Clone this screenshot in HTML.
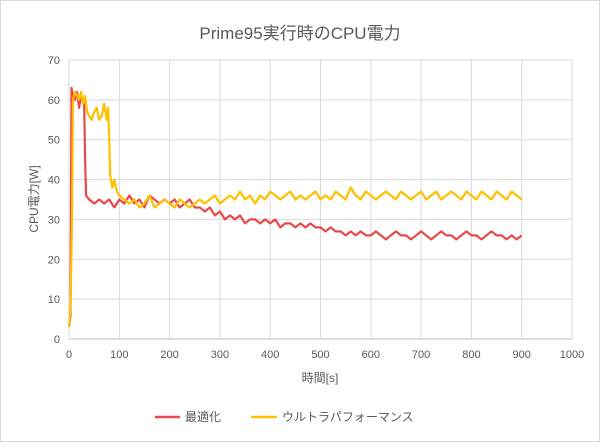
<!DOCTYPE html>
<html><head><meta charset="utf-8"><style>
body{margin:0;background:#fff}
svg text{font-family:"Liberation Sans","Noto Sans CJK JP",sans-serif;fill:#595959}
</style></head><body>
<svg width="600" height="442" viewBox="0 0 600 442" id="chart">
<rect x="0.5" y="0.5" width="599" height="441" fill="#fff" stroke="#d9d9d9"/>
<text x="300" y="39" text-anchor="middle" font-size="17">Prime95実行時のCPU電力</text>
<g id="grid"></g>
<g id="ticks"></g>
<g id="series"></g>
<text x="0" y="0" transform="translate(38,199) rotate(-90)" text-anchor="middle" font-size="12">CPU電力[W]</text>
<text x="320" y="382" text-anchor="middle" font-size="12">時間[s]</text>
<g>
<g><line x1="155" y1="417" x2="180" y2="417" stroke="#e84a4a" stroke-width="2.5"/><text x="185" y="421" font-size="12">最適化</text></g>
<g><line x1="251" y1="417" x2="277" y2="417" stroke="#ffc000" stroke-width="2.5"/><text x="282" y="421" font-size="12">ウルトラパフォーマンス</text></g>
</g>
</svg>
<script>
const xTicks=[0,100,200,300,400,500,600,700,800,900,1000];
const yTicks=[0,10,20,30,40,50,60,70];
const redT=[0,3,5,8,12,16,20,24,28,30,32,34,40,50,60,70,80,90,100,110,120,130,140,150,160,170,180,190,200,210,220,230,240,250,260,270,280,290,300,310,320,330,340,350,360,370,380,390,400,410,420,430,440,450,460,470,480,490,500,510,520,530,540,550,560,570,580,590,600,610,620,630,640,650,660,670,680,690,700,710,720,730,740,750,760,770,780,790,800,810,820,830,840,850,860,870,880,890,900];
const redV=[3,6,63,61,60,62,58,61,60,60,45,36,35,34,35,34,35,33,35,34,36,34,35,33,36,35,34,35,34,35,33,34,35,33,33,32,33,31,32,30,31,30,31,29,30,30,29,30,29,30,28,29,29,28,29,28,29,28,28,27,28,27,27,26,27,26,27,26,26,27,26,25,26,27,26,26,25,26,27,26,25,26,27,26,26,25,26,27,26,26,25,26,27,26,26,25,26,25,26];
const yelT=[0,3,6,8,12,16,20,24,28,32,36,40,45,50,55,60,65,70,75,78,80,82,86,90,95,100,110,120,130,140,150,160,170,180,190,200,210,220,230,240,250,260,270,280,290,300,310,320,330,340,350,360,370,380,390,400,410,420,430,440,450,460,470,480,490,500,510,520,530,540,550,560,570,580,590,600,610,620,630,640,650,660,670,680,690,700,710,720,730,740,750,760,770,780,790,800,810,820,830,840,850,860,870,880,890,900];
const yelV=[3,8,30,60,62,61,60,62,59,61,57,56,55,57,58,55,56,59,55,58,50,41,38,40,37,36,35,34,35,33,34,36,33,34,35,34,33,35,34,33,34,35,34,35,36,34,35,36,35,37,35,36,34,36,35,37,36,35,36,37,35,36,35,36,37,35,36,35,37,36,35,38,36,35,37,36,35,36,37,36,35,37,36,35,36,37,35,36,37,35,36,37,36,35,37,36,35,37,36,35,37,36,35,37,36,35,37];
const X0=69,X1=572,Y0=339,Y1=60;
const sx=v=>X0+(v-0)/1000*(X1-X0);
const sy=v=>Y0-(v-0)/70*(Y0-Y1);
const NS="http://www.w3.org/2000/svg";
const grid=document.getElementById('grid'),ticks=document.getElementById('ticks'),series=document.getElementById('series');
function mk(tag,attrs){const e=document.createElementNS(NS,tag);for(const k in attrs)e.setAttribute(k,attrs[k]);return e;}
yTicks.forEach(v=>{
 const l=mk('line',{x1:X0,x2:X1,y1:sy(v),y2:sy(v),stroke:'#d9d9d9','stroke-width':1});
 
 
 grid.appendChild(l);
 const t=mk('text',{x:X0-9,y:sy(v)+4,'text-anchor':'end','font-size':11});
 
 
 t.textContent=v;ticks.appendChild(t);
});
xTicks.forEach(v=>{
 const l=mk('line',{x1:sx(v),x2:sx(v),y1:Y1,y2:Y0,stroke:'#d9d9d9','stroke-width':1});
 
 
 grid.appendChild(l);
 const t=mk('text',{x:sx(v),y:Y0+19,'text-anchor':'middle','font-size':11});
 
 
 t.textContent=v;ticks.appendChild(t);
});
const ax=mk('line',{x1:X0,x2:X1,y1:Y0,y2:Y0,stroke:'#bfbfbf','stroke-width':1});


grid.appendChild(ax);
function path(T,V){return T.map((t,i)=>(i?'L':'M')+sx(t).toFixed(1)+','+sy(V[i]).toFixed(1)).join('');}
const pr=mk('path',{d:path(redT,redV),fill:'none',stroke:'#e84a4a','stroke-width':2.2,'stroke-linejoin':'round'});


series.appendChild(pr);
const py=mk('path',{d:path(yelT,yelV),fill:'none',stroke:'#ffc000','stroke-width':2.2,'stroke-linejoin':'round'});


series.appendChild(py);
</script>
</body></html>
